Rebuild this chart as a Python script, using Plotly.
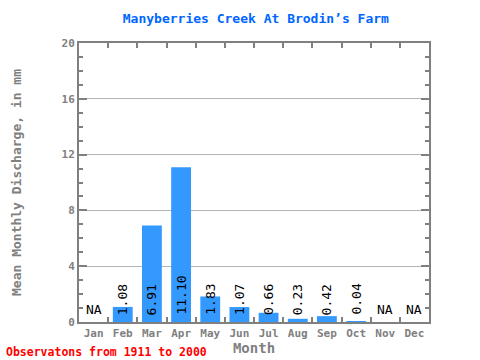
import plotly.graph_objects as go

months = ["Jan", "Feb", "Mar", "Apr", "May", "Jun", "Jul", "Aug", "Sep", "Oct", "Nov", "Dec"]
values = [None, 1.08, 6.91, 11.10, 1.83, 1.07, 0.66, 0.23, 0.42, 0.04, None, None]
labels = ["NA", "1.08", "6.91", "11.10", "1.83", "1.07", "0.66", "0.23", "0.42", "0.04", "NA", "NA"]
title = "Manyberries Creek At Brodin’s Farm"
footer = "Observatons from 1911 to 2000"

FONT = "DejaVu Sans Mono"
GRAY = "#808080"

fig = go.Figure()
fig.add_trace(go.Bar(
    x=months, y=[v if v is not None else 0 for v in values],
    marker=dict(color="#3399ff", line=dict(width=0)),
    width=0.68, hoverinfo="skip",
))

annotations = []
for m, v, t in zip(months, values, labels):
    if v is None:
        annotations.append(dict(x=m, y=0, text=t, showarrow=False, xref="x", yref="y",
                                yanchor="bottom", yshift=3,
                                font=dict(family=FONT, size=13, color="black")))
    else:
        annotations.append(dict(x=m, y=0, text=t, showarrow=False, xref="x", yref="y",
                                textangle=-90, yanchor="bottom", yshift=5,
                                font=dict(family=FONT, size=13, color="black")))
annotations.append(dict(x=0, y=0, xref="paper", yref="paper", xanchor="left", yanchor="middle",
                        text=footer, showarrow=False, xshift=-75, yshift=-30,
                        font=dict(family=FONT, size=11.5, color="#ff0000", weight="bold")))

fig.update_layout(
    width=480, height=360,
    margin=dict(l=79, r=51, t=43, b=38),
    paper_bgcolor="white", plot_bgcolor="white",
    showlegend=False,
    title=dict(text=title, x=0.533, xanchor="center", y=0.95, yanchor="middle", yref="container",
               font=dict(family=FONT, size=13, color="#0066ff", weight="bold")),
    annotations=annotations,
    xaxis=dict(
        type="category", range=[-0.5, 11.5], automargin=False,
        showline=True, linecolor=GRAY, linewidth=2, mirror="ticks",
        ticks="inside", tickson="boundaries", ticklen=5, tickcolor=GRAY, tickwidth=2,
        showgrid=False, tickangle=0,
        tickfont=dict(family=FONT, size=11, color=GRAY, weight="bold"),
        title=dict(text="Month", font=dict(family=FONT, size=14, color=GRAY, weight="bold"), standoff=2),
    ),
    yaxis=dict(
        range=[0, 20], dtick=4, tick0=0, automargin=False,
        showline=True, linecolor=GRAY, linewidth=2, mirror="ticks",
        ticks="inside", ticklen=8, tickcolor=GRAY, tickwidth=2,
        minor=dict(dtick=1, ticks="inside", ticklen=4, tickcolor=GRAY, tickwidth=2, showgrid=False),
        showgrid=True, gridcolor="#b4b4b4", gridwidth=1,
        zeroline=False,
        tickfont=dict(family=FONT, size=11, color=GRAY, weight="bold"),
        title=dict(text="Mean Monthly Discharge, in mm", font=dict(family=FONT, size=13, color=GRAY, weight="bold"), standoff=37),
    ),
)

fig.write_html("out.html", config={"displayModeBar": False},
               post_script="document.body.style.margin='0';document.body.style.overflow='hidden';")
